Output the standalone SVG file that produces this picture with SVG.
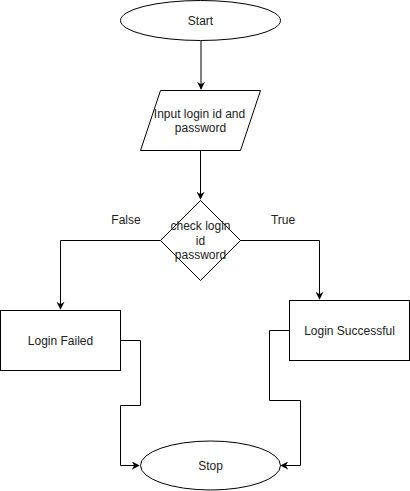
<svg xmlns="http://www.w3.org/2000/svg" width="410" height="491" viewBox="0 0 410 491">
<defs>
<style>
.s{fill:#fff;stroke:#000;stroke-width:1}
.t{font-family:"Liberation Sans",Arial,Helvetica,sans-serif;font-size:12px;fill:#222;text-anchor:middle}
.e{fill:none;stroke:#000;stroke-width:1}
</style>
<marker id="a" viewBox="0 0 10 10" refX="9" refY="5" markerWidth="8" markerHeight="8" markerUnits="userSpaceOnUse" orient="auto">
<path d="M0,0 L10,5 L0,10 L3,5 Z" fill="#000"/>
</marker>
</defs>
<rect width="410" height="491" fill="#fff"/>
<g id="edges">
<path class="e" d="M201,40.5 V89" marker-end="url(#a)"/>
<path class="e" d="M200.5,150 V199" marker-end="url(#a)"/>
<path class="e" d="M160,240.5 H60.5 V309" marker-end="url(#a)"/>
<path class="e" d="M240,240.5 H319.5 V299" marker-end="url(#a)"/>
<path class="e" d="M120,340.5 H140.5 V405.5 H120.5 V465.5 H139" marker-end="url(#a)"/>
<path class="e" d="M290,330.5 H269.5 V400.5 H300.5 V465.5 H281" marker-end="url(#a)"/>
<text class="t" x="126" y="224">False</text>
<text class="t" x="283" y="224">True</text>
</g>
<g id="start">
<ellipse class="s" cx="200.5" cy="20.5" rx="80" ry="20"/>
<text class="t" x="200.5" y="25">Start</text>
</g>
<g id="input">
<polygon class="s" points="160.5,90.5 260.5,90.5 240.5,150.5 140.5,150.5"/>
<text class="t" x="199.5" y="118">Input login id and</text>
<text class="t" x="200.5" y="132">password</text>
</g>
<g id="check">
<polygon class="s" points="200.5,200.5 240.5,240.5 200.5,280.5 160.5,240.5"/>
<text class="t" x="200.5" y="230">check login</text>
<text class="t" x="200.5" y="245">id</text>
<text class="t" x="200.5" y="259">password</text>
</g>
<g id="failed">
<rect class="s" x="0.5" y="310.5" width="120" height="60"/>
<text class="t" x="60.5" y="345">Login Failed</text>
</g>
<g id="success">
<rect class="s" x="289.5" y="300.5" width="120" height="60"/>
<text class="t" x="349.5" y="335">Login Successful</text>
</g>
<g id="stop">
<ellipse class="s" cx="210.5" cy="465.5" rx="70" ry="24.5"/>
<text class="t" x="210.5" y="470">Stop</text>
</g>
</svg>
